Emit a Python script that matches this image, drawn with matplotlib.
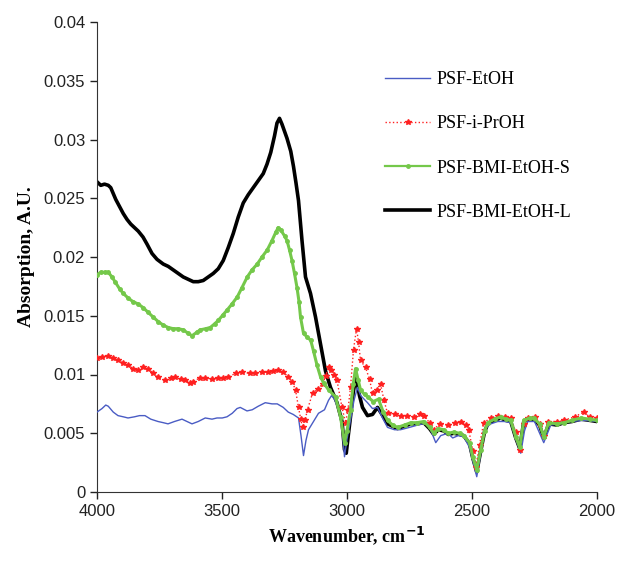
import matplotlib
matplotlib.use("Agg")
import matplotlib.pyplot as plt

# PSF-EtOH (blue)
wn_etoh = [4000, 3980, 3965, 3955, 3935, 3916, 3895, 3876, 3850, 3830, 3808, 3785, 3756, 3735,
           3716, 3690, 3660, 3640, 3620, 3595, 3567, 3540, 3520, 3499, 3480, 3459, 3440, 3427,
           3400, 3379, 3355, 3327, 3300, 3279, 3255, 3235, 3215, 3194, 3184, 3174, 3164, 3154,
           3134, 3114, 3090, 3074, 3062, 3050, 3034, 3020, 3010, 3000, 2986, 2972, 2958, 2945,
           2918, 2898, 2878, 2858, 2838, 2810, 2786, 2750, 2717, 2677, 2660, 2645, 2625, 2597,
           2577, 2555, 2533, 2510, 2495, 2481, 2467, 2453, 2425, 2397, 2370, 2345, 2325, 2305,
           2290, 2277, 2250, 2213, 2185, 2150, 2104, 2050, 2000]
ab_etoh = [0.0068, 0.0071, 0.0074, 0.0073, 0.0068, 0.0065, 0.0064, 0.0063, 0.0064, 0.0065,
           0.0065, 0.0062, 0.0060, 0.0059, 0.0058, 0.0060, 0.0062, 0.0060, 0.0058, 0.0060,
           0.0063, 0.0062, 0.0063, 0.0063, 0.0064, 0.0067, 0.0071, 0.0072, 0.0069, 0.0070,
           0.0073, 0.0076, 0.0075, 0.0075, 0.0072, 0.0068, 0.0066, 0.0063, 0.0048, 0.0031,
           0.0044, 0.0053, 0.0060, 0.0067, 0.0070, 0.0078, 0.0082, 0.0079, 0.0070, 0.0055,
           0.0030, 0.0045, 0.0061, 0.0078, 0.0089, 0.0082, 0.0076, 0.0071, 0.0072, 0.0063,
           0.0055, 0.0053, 0.0053, 0.0055, 0.0057, 0.0059, 0.0050, 0.0042, 0.0048, 0.0050,
           0.0046, 0.0048, 0.0047, 0.0038, 0.0025, 0.0013, 0.0030, 0.0053, 0.0058, 0.0060,
           0.0060, 0.0059, 0.0045, 0.0033, 0.0052, 0.0060, 0.0060, 0.0042, 0.0057, 0.0058,
           0.0060, 0.0061, 0.0060]

# PSF-i-PrOH (red)
wn_iproh = [4000, 3980, 3955, 3935, 3916, 3895, 3876, 3855, 3836, 3815, 3796, 3775, 3756, 3728,
            3705, 3687, 3665, 3647, 3630, 3615, 3590, 3567, 3540, 3515, 3495, 3475, 3445, 3419,
            3390, 3367, 3340, 3315, 3295, 3275, 3255, 3235, 3220, 3206, 3194, 3185, 3178, 3168,
            3158, 3138, 3115, 3098, 3085, 3074, 3066, 3054, 3040, 3020, 3006, 2996, 2986, 2974,
            2962, 2954, 2946, 2926, 2910, 2898, 2882, 2866, 2852, 2838, 2810, 2786, 2760, 2733,
            2710, 2693, 2670, 2653, 2630, 2597, 2570, 2545, 2525, 2513, 2497, 2485, 2470, 2453,
            2425, 2397, 2370, 2345, 2325, 2309, 2293, 2277, 2250, 2230, 2213, 2195, 2160, 2132,
            2090, 2052, 2030, 2000]
ab_iproh = [0.0114, 0.0115, 0.0116, 0.0114, 0.0112, 0.0110, 0.0108, 0.0105, 0.0104, 0.0106,
            0.0105, 0.0101, 0.0098, 0.0095, 0.0097, 0.0098, 0.0096, 0.0095, 0.0093, 0.0094,
            0.0097, 0.0097, 0.0096, 0.0097, 0.0097, 0.0098, 0.0101, 0.0102, 0.0101, 0.0101,
            0.0102, 0.0102, 0.0103, 0.0104, 0.0102, 0.0098, 0.0094, 0.0087, 0.0072, 0.0062,
            0.0055, 0.0061, 0.0070, 0.0084, 0.0088, 0.0092, 0.0099, 0.0106, 0.0104, 0.0100,
            0.0095, 0.0072, 0.0059, 0.0070, 0.0089, 0.0121, 0.0139, 0.0128, 0.0112, 0.0106,
            0.0096, 0.0084, 0.0087, 0.0092, 0.0078, 0.0067, 0.0066, 0.0065, 0.0065, 0.0064,
            0.0066, 0.0065, 0.0059, 0.0053, 0.0058, 0.0057, 0.0059, 0.0060, 0.0057, 0.0053,
            0.0035, 0.0021, 0.0040, 0.0059, 0.0063, 0.0065, 0.0064, 0.0063, 0.0051, 0.0036,
            0.0058, 0.0063, 0.0064, 0.0058, 0.0048, 0.0060, 0.0060, 0.0061, 0.0064, 0.0068,
            0.0064, 0.0063]

# PSF-BMI-EtOH-S (green)
wn_bmi_s = [4000, 3985, 3970, 3955, 3940, 3928, 3910, 3895, 3875, 3856, 3835, 3816, 3796, 3776,
            3755, 3735, 3715, 3695, 3675, 3655, 3635, 3620, 3600, 3587, 3565, 3547, 3530, 3515,
            3495, 3479, 3460, 3439, 3420, 3399, 3380, 3359, 3340, 3319, 3300, 3285, 3275, 3265,
            3250, 3240, 3230, 3220, 3210, 3200, 3192, 3186, 3174, 3160, 3145, 3134, 3120, 3106,
            3094, 3074, 3046, 3026, 3010, 3000, 2986, 2975, 2966, 2955, 2946, 2930, 2918, 2895,
            2874, 2855, 2838, 2818, 2798, 2770, 2745, 2720, 2693, 2670, 2653, 2635, 2613, 2595,
            2573, 2550, 2533, 2510, 2497, 2481, 2465, 2450, 2437, 2410, 2385, 2365, 2345, 2325,
            2309, 2293, 2270, 2253, 2230, 2213, 2193, 2160, 2132, 2100, 2064, 2030, 2000]
ab_bmi_s = [0.0185, 0.0187, 0.0187, 0.0187, 0.0183, 0.0179, 0.0173, 0.0169, 0.0165, 0.0162,
            0.0160, 0.0157, 0.0153, 0.0149, 0.0145, 0.0142, 0.0140, 0.0139, 0.0139, 0.0138,
            0.0135, 0.0133, 0.0136, 0.0138, 0.0139, 0.0140, 0.0143, 0.0146, 0.0151, 0.0155,
            0.0160, 0.0166, 0.0174, 0.0183, 0.0189, 0.0194, 0.0200, 0.0206, 0.0214, 0.0221,
            0.0225, 0.0223, 0.0218, 0.0214, 0.0206, 0.0197, 0.0186, 0.0174, 0.0162, 0.0149,
            0.0135, 0.0132, 0.0129, 0.0120, 0.0108, 0.0098, 0.0093, 0.0087, 0.0081, 0.0064,
            0.0042, 0.0052, 0.0070, 0.0092, 0.0105, 0.0095, 0.0087, 0.0083, 0.0081, 0.0077,
            0.0079, 0.0068, 0.0061, 0.0057, 0.0055, 0.0057, 0.0059, 0.0059, 0.0060, 0.0055,
            0.0050, 0.0054, 0.0053, 0.0050, 0.0051, 0.0050, 0.0048, 0.0042, 0.0030, 0.0019,
            0.0036, 0.0052, 0.0059, 0.0062, 0.0064, 0.0062, 0.0061, 0.0047, 0.0038, 0.0061,
            0.0063, 0.0063, 0.0058, 0.0047, 0.0059, 0.0058, 0.0059, 0.0061, 0.0063, 0.0062,
            0.0061]

# PSF-BMI-EtOH-L (black)
wn_bmi_l = [4000, 3985, 3970, 3955, 3945, 3935, 3925, 3910, 3895, 3880, 3865, 3850, 3835, 3816,
            3800, 3780, 3760, 3735, 3715, 3695, 3675, 3655, 3635, 3615, 3595, 3575, 3555, 3535,
            3515, 3495, 3475, 3455, 3435, 3415, 3395, 3375, 3355, 3335, 3320, 3305, 3290, 3280,
            3270, 3260, 3250, 3240, 3225, 3214, 3204, 3194, 3180, 3166, 3146, 3126, 3106, 3086,
            3066, 3040, 3020, 3010, 3003, 2995, 2986, 2975, 2964, 2950, 2938, 2918, 2898, 2878,
            2860, 2838, 2818, 2798, 2770, 2745, 2720, 2693, 2670, 2653, 2635, 2613, 2595, 2573,
            2550, 2533, 2510, 2497, 2481, 2465, 2450, 2437, 2410, 2385, 2365, 2345, 2325, 2309,
            2293, 2270, 2253, 2230, 2213, 2193, 2160, 2132, 2100, 2064, 2030, 2000]
ab_bmi_l = [0.0264, 0.0261, 0.0262, 0.0261, 0.0259, 0.0254, 0.0249, 0.0243, 0.0237, 0.0232,
            0.0228, 0.0225, 0.0222, 0.0217, 0.0211, 0.0203, 0.0198, 0.0194, 0.0192, 0.0189,
            0.0186, 0.0183, 0.0181, 0.0179, 0.0179, 0.0180, 0.0183, 0.0186, 0.0190, 0.0197,
            0.0208, 0.0220, 0.0234, 0.0246, 0.0253, 0.0259, 0.0265, 0.0271, 0.0279, 0.0289,
            0.0303, 0.0314, 0.0318, 0.0313, 0.0307, 0.0301, 0.0290, 0.0277, 0.0263, 0.0248,
            0.0214, 0.0183, 0.0169, 0.0149, 0.0126, 0.0103, 0.0089, 0.0076, 0.0060, 0.0036,
            0.0033, 0.0048, 0.0064, 0.0085, 0.0098, 0.0082, 0.0072, 0.0065, 0.0066, 0.0072,
            0.0066, 0.0058, 0.0056, 0.0054, 0.0056, 0.0058, 0.0058, 0.0059, 0.0054, 0.0049,
            0.0053, 0.0052, 0.0049, 0.0050, 0.0049, 0.0048, 0.0041, 0.0029, 0.0017, 0.0035,
            0.0051, 0.0058, 0.0061, 0.0063, 0.0061, 0.0060, 0.0046, 0.0037, 0.0060, 0.0062,
            0.0062, 0.0057, 0.0046, 0.0058, 0.0057, 0.0059, 0.0060, 0.0062, 0.0061, 0.0060]

x_ticks = [4000, 3500, 3000, 2500, 2000]
y_ticks = [0, 0.005, 0.01, 0.015, 0.02, 0.025, 0.03, 0.035, 0.04]
y_labels = ["0", "0.005", "0.01", "0.015", "0.02", "0.025", "0.03", "0.035", "0.04"]

fig = plt.figure(figsize=(6.18, 5.61), dpi=100)
ax = fig.add_axes([97 / 618, 1 - 492 / 561, 500 / 618, 470 / 561])

l_black, = ax.plot(wn_bmi_l, ab_bmi_l, color="black", lw=2.6, zorder=2)
l_blue, = ax.plot(wn_etoh, ab_etoh, color="#4a5cc4", lw=1.0, zorder=3)
l_red, = ax.plot(wn_iproh, ab_iproh, color="#ff2020", lw=1.0, ls=":", marker="*",
                 ms=3.8, mec="#ff2020", zorder=4)
l_green, = ax.plot(wn_bmi_s, ab_bmi_s, color="#74c84a", lw=2.2, marker="o", ms=2.5,
                   mec="#74c84a", zorder=5)

ax.set_xlim(4000, 2000)
ax.set_ylim(0, 0.04)
ax.set_xticks(x_ticks)
ax.set_xticklabels([str(t) for t in x_ticks])
ax.set_yticks(y_ticks)
ax.set_yticklabels(y_labels)
ax.tick_params(direction="out", length=5, width=1, labelsize=12, colors="#222222",
               labelfontfamily="Liberation Sans")
ax.spines["top"].set_visible(False)
ax.spines["right"].set_visible(False)
for s in ("left", "bottom"):
    ax.spines[s].set_color("#333333")

ax.set_xlabel("Wavenumber, cm$^{\\mathbf{-1}}$", fontfamily="Liberation Serif",
              fontweight="bold", fontsize=13, labelpad=4)
ax.set_ylabel("Absorption, A.U.", fontfamily="Liberation Serif", fontweight="bold",
              fontsize=14, labelpad=6)

leg = fig.legend([l_blue, l_red, l_green, l_black],
                 ["PSF-EtOH", "PSF-i-PrOH", "PSF-BMI-EtOH-S", "PSF-BMI-EtOH-L"],
                 loc="center left", bbox_to_anchor=(385 / 618, 1 - 146 / 561),
                 frameon=False, borderpad=0, borderaxespad=0, handlelength=2.5,
                 handletextpad=0.35, labelspacing=1.5,
                 prop={"family": "Liberation Serif", "size": 13})
leg.legend_handles[2].set_linewidth(1.6)

fig.savefig("out.png", dpi=100)
